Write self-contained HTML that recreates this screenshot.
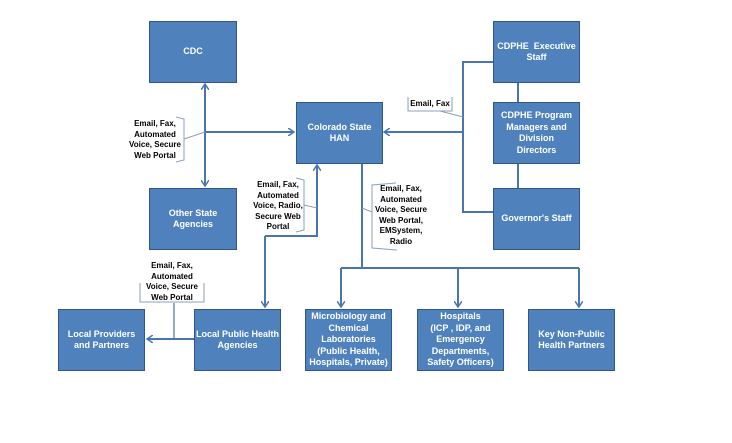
<!DOCTYPE html>
<html><head><style>
body{margin:0;width:732px;height:443px;background:#fff;overflow:hidden;position:relative;font-family:"Liberation Sans",Arial,sans-serif}
.b{position:absolute;background:#4f81bd;border:1.5px solid #2f5888;box-sizing:border-box;color:#fff;font-weight:bold;font-size:9px;line-height:11.5px;display:flex;align-items:center;justify-content:center;text-align:center}
.l{position:absolute;font-weight:bold;font-size:8px;line-height:10.5px;text-align:center;color:#000}
svg{position:absolute;left:0;top:0}
</style></head><body>
<svg width="732" height="443">
<defs><marker id="a" markerWidth="8" markerHeight="8" refX="6" refY="4" orient="auto" markerUnits="userSpaceOnUse"><path d="M0,0 L6,4 L0,8" fill="none" stroke="#4a76b0" stroke-width="1.5"/></marker></defs>
<g stroke="#4a76b0" stroke-width="2" fill="none">
<line x1="205" y1="135" x2="205" y2="84" marker-end="url(#a)"/>
<line x1="205" y1="130" x2="205" y2="186" marker-end="url(#a)"/>
<line x1="205" y1="132" x2="294" y2="132" marker-end="url(#a)"/>
<polyline points="493,62 463,62 463,212 493,212"/>
<line x1="463" y1="132" x2="384" y2="132" marker-end="url(#a)"/>
<line x1="518" y1="82" x2="518" y2="102"/>
<line x1="518" y1="163" x2="518" y2="188"/>
<polyline points="362,163 362,268"/>
<line x1="341" y1="268" x2="579" y2="268"/>
<line x1="341" y1="268" x2="341" y2="307" marker-end="url(#a)"/>
<line x1="458" y1="268" x2="458" y2="307" marker-end="url(#a)"/>
<line x1="579" y1="268" x2="579" y2="307" marker-end="url(#a)"/>
<polyline points="265,236 317,236 317,165" marker-end="url(#a)"/>
<line x1="265" y1="236" x2="265" y2="307" marker-end="url(#a)"/>
<line x1="194" y1="339" x2="147" y2="339" marker-end="url(#a)"/>
<line x1="174" y1="339" x2="174" y2="303" stroke-width="1.2"/>
</g>
<g stroke="#8aa0bb" stroke-width="1" fill="none">
<path d="M176,117 L184,119 L184,160 L176,162"/><line x1="184" y1="139" x2="205" y2="132"/>
<path d="M296,178 L304,180 L304,230 L296,232"/><line x1="304" y1="205" x2="317" y2="208"/>
<path d="M396,183 L372,185 L372,248 L397,250"/><line x1="372" y1="212" x2="362" y2="208"/>
<path d="M408,97 L408,111 L452,111 L452,97"/><line x1="440" y1="111" x2="463" y2="117"/>
<path d="M140,283 L140,302 L204,302 L204,283"/>
</g>
</svg>
<div class="b" style="left:149px;top:21px;width:88px;height:62px">CDC</div>
<div class="b" style="left:296px;top:102px;width:87px;height:62px">Colorado State<br>HAN</div>
<div class="b" style="left:149px;top:188px;width:88px;height:62px">Other State<br>Agencies</div>
<div class="b" style="left:493px;top:21px;width:87px;height:62px">CDPHE&nbsp; Executive<br>Staff</div>
<div class="b" style="left:493px;top:102px;width:87px;height:62px">CDPHE Program<br>Managers and<br>Division<br>Directors</div>
<div class="b" style="left:493px;top:188px;width:87px;height:62px">Governor's Staff</div>
<div class="b" style="left:58px;top:309px;width:87px;height:62px">Local Providers<br>and Partners</div>
<div class="b" style="left:194px;top:309px;width:87px;height:62px">Local Public Health<br>Agencies</div>
<div class="b" style="left:305px;top:309px;width:87px;height:62px">Microbiology and<br>Chemical<br>Laboratories<br>(Public Health,<br>Hospitals, Private)</div>
<div class="b" style="left:417px;top:309px;width:87px;height:62px">Hospitals<br>(ICP , IDP, and<br>Emergency<br>Departments,<br>Safety Officers)</div>
<div class="b" style="left:528px;top:309px;width:87px;height:62px">Key Non-Public<br>Health Partners</div>
<div class="l" style="left:125px;top:119px;width:60px">Email, Fax,<br>Automated<br>Voice, Secure<br>Web Portal</div>
<div class="l" style="left:250px;top:180px;width:56px">Email, Fax,<br>Automated<br>Voice, Radio,<br>Secure Web<br>Portal</div>
<div class="l" style="left:370px;top:184px;width:62px">Email, Fax,<br>Automated<br>Voice, Secure<br>Web Portal,<br>EMSystem,<br>Radio</div>
<div class="l" style="left:408px;top:99px;width:44px">Email, Fax</div>
<div class="l" style="left:140px;top:261px;width:64px">Email, Fax,<br>Automated<br>Voice, Secure<br>Web Portal</div>
</body></html>
